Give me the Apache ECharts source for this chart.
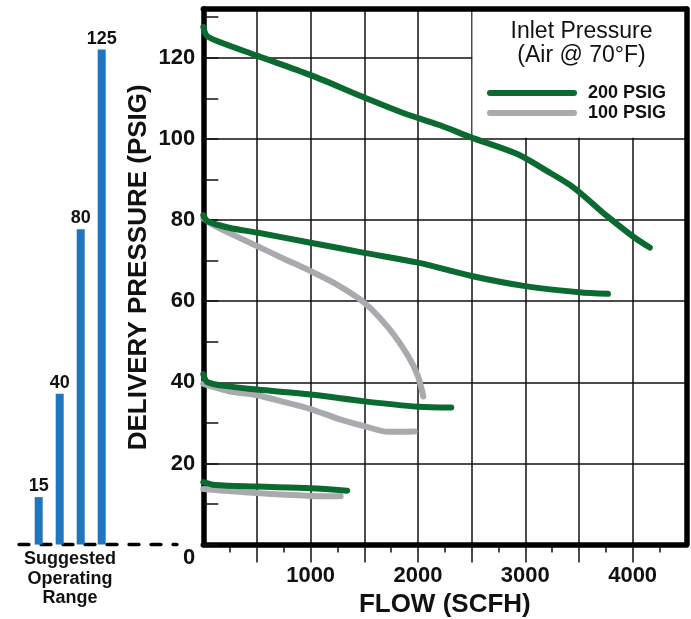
<!DOCTYPE html>
<html><head><meta charset="utf-8">
<script src="https://cdn.jsdelivr.net/npm/echarts@6/dist/echarts.min.js"></script>
<style>html,body{margin:0;padding:0;background:#fff}#c{width:691px;height:619px}</style>
</head><body><div id="c"></div>
<script>
// ---- data ----
const flowTickValues = [500, 1000, 1500, 2000, 2500, 3000, 3500, 4000];
const flowLabelValues = [1000, 2000, 3000, 4000];
const pressureLabelValues = [0, 20, 40, 60, 80, 100, 120];

// 200 PSIG inlet curves [flow SCFH, delivery PSIG]
const inlet200_set125 = [[0,127.6],[30,125.5],[110,124.3],[500,120.5],[1000,115.7],[1500,110.2],[1850,106.5],[2200,103.4],[2500,100.3],[2920,96.3],[3200,92.1],[3450,88.0],[3760,81.0],[4000,76.0],[4160,73.2]];
const inlet200_set80  = [[0,81.2],[40,79.7],[240,78.1],[500,76.9],[1000,74.4],[1500,71.9],[2000,69.5],[2500,66.2],[3000,63.7],[3500,62.2],[3770,61.8]];
const inlet200_set40  = [[0,42.0],[40,40.0],[240,39.0],[500,38.2],[1000,37.0],[1500,35.3],[2000,34.0],[2310,33.8]];
const inlet200_set15  = [[0,15.4],[110,14.7],[500,14.3],[1000,13.9],[1340,13.3]];
// 100 PSIG inlet curves
const inlet100_set80  = [[0,80.4],[110,78.5],[500,73.6],[730,70.7],[1000,67.4],[1230,64.3],[1500,59.6],[1725,53.4],[1910,46.4],[2000,41.5],[2050,36.5]];
const inlet100_set40  = [[0,39.6],[240,37.8],[500,36.8],[760,35.1],[1000,33.4],[1260,31.0],[1500,29.2],[1725,27.8],[1970,27.9]];
const inlet100_set15  = [[0,13.7],[500,12.7],[1000,12.0],[1280,11.9]];

// Suggested operating range bars
const rangeLabels = ['15', '40', '80', '125'];
const rangeHeights = [11.7, 37.2, 77.7, 122.0];

const legendNames = ['200 PSIG', '100 PSIG'];
const legendBoxFlow = [2508, 4500];
const legendBoxPressure = [100.3, 132];

// ---- styling ----
const FF = "'Liberation Sans', Arial, Helvetica, sans-serif";
const GREEN = '#0b6a2f';
const GRAY = '#a9aaae';
const BLUE = '#2075bf';
const INK = '#111';

function curve(name, data, color) {
  return {
    type: 'line', name: name, data: data, xAxisIndex: 0, yAxisIndex: 0,
    smooth: 0.3, symbol: 'none', showSymbol: false, silent: true,
    color: color, itemStyle: {color: color},
    lineStyle: {color: color, width: 6, cap: 'round', join: 'round'},
    z: 2
  };
}

const chart = echarts.init(document.getElementById('c'), null, {renderer: 'canvas'});
const option = {
  animation: false,
  backgroundColor: '#fff',
  textStyle: {fontFamily: FF},
  title: [
    {text: 'Inlet Pressure\n(Air @ 70°F)', left: 581.5, top: 19.5, padding: 0, textAlign: 'center',
     textStyle: {fontFamily: FF, fontSize: 23, fontWeight: 'normal', color: INK, lineHeight: 24}},
    {text: 'Suggested\nOperating\nRange', left: 70, top: 549.5, padding: 0, textAlign: 'center',
     textStyle: {fontFamily: FF, fontSize: 18, fontWeight: 'bold', color: INK, lineHeight: 19.5}}
  ],
  legend: {
    data: legendNames, orient: 'vertical', left: 487, top: 83, padding: 0,
    itemWidth: 90, itemHeight: 6, itemGap: 0, selectedMode: false,
    icon: 'path://M3 0H87A3 3 0 0 1 87 6H3A3 3 0 0 1 3 0Z',
    textStyle: {fontFamily: FF, fontSize: 18, fontWeight: 'bold', color: INK, lineHeight: 20, padding: [0,0,0,6]}
  },
  grid: [
    {left: 203.3, top: 9, width: 483, height: 535.6, containLabel: false, outerBoundsMode: 'none'},
    {left: 13, top: 9, width: 164, height: 535.6, containLabel: false, outerBoundsMode: 'none'}
  ],
  xAxis: [
    {gridIndex: 0, type: 'value', min: 0, max: 4500, interval: 500, position: 'bottom', z: 0,
     axisLine: {show: true, onZero: false, lineStyle: {color: '#000', width: 5.5}},
     axisTick: {show: true, inside: false, length: 18, customValues: flowTickValues, lineStyle: {color: INK, width: 1.5}},
     minorTick: {show: true, splitNumber: 2, length: 8, lineStyle: {color: INK, width: 1.5}},
     splitLine: {show: true, lineStyle: {color: INK, width: 1.5}},
     axisLabel: {show: true, margin: 20, fontFamily: FF, fontSize: 22, fontWeight: 'bold', color: INK,
       formatter: v => flowLabelValues.indexOf(v) >= 0 ? String(v) : ''},
     name: 'FLOW (SCFH)', nameLocation: 'middle', nameGap: 47, nameMoveOverlap: false,
     nameTextStyle: {fontFamily: FF, fontSize: 26, fontWeight: 'bold', color: INK}
    },
    {gridIndex: 0, type: 'value', min: 0, max: 4500, position: 'top', z: 10,
     axisLine: {show: true, onZero: false, lineStyle: {color: '#000', width: 5.5}},
     axisTick: {show: false}, axisLabel: {show: false}, splitLine: {show: false}},
    {gridIndex: 1, type: 'value', min: -0.224, max: 7.586, position: 'bottom',
     axisLine: {show: true, onZero: false, lineStyle: {color: '#000', width: 3.3, type: [10, 12], dashOffset: 16}},
     axisTick: {show: false}, axisLabel: {show: false}, splitLine: {show: false}}
  ],
  yAxis: [
    {gridIndex: 0, type: 'value', min: 0, max: 132, interval: 20, position: 'left', z: 0,
     axisLine: {show: true, onZero: false, lineStyle: {color: '#000', width: 5.5}},
     axisTick: {show: true, inside: true, length: 15, lineStyle: {color: INK, width: 1.5}},
     minorTick: {show: true, splitNumber: 2, length: 15, lineStyle: {color: INK, width: 1.5}},
     splitLine: {show: true, lineStyle: {color: INK, width: 1.5}},
     axisLabel: {show: true, margin: 8, fontFamily: FF, fontSize: 22, fontWeight: 'bold', color: INK,
       formatter: v => pressureLabelValues.indexOf(v) < 0 ? '' : (v === 0 ? '{z|0}' : String(v)),
       rich: {z: {fontFamily: FF, fontSize: 22, fontWeight: 'bold', color: INK, padding: [27, 0, 0, 0]}}},
     name: 'DELIVERY PRESSURE (PSIG)', nameLocation: 'middle', nameGap: 64, nameRotate: 90, nameMoveOverlap: false,
     nameTextStyle: {fontFamily: FF, fontSize: 26, fontWeight: 'bold', color: INK, verticalAlign: 'middle', align: 'center', padding: [0, 0, 0, 19]}
    },
    {gridIndex: 0, type: 'value', min: 0, max: 132, position: 'right', z: 10,
     axisLine: {show: true, onZero: false, lineStyle: {color: '#000', width: 5.5}},
     axisTick: {show: false}, axisLabel: {show: false}, splitLine: {show: false}},
    {gridIndex: 1, type: 'value', min: 0, max: 132, show: false}
  ],
  series: [
    {type: 'line', name: 'legendBox', xAxisIndex: 0, yAxisIndex: 0, data: [], z: 1, silent: true,
     markArea: {silent: true, z: 1, itemStyle: {color: '#fff', opacity: 1}, label: {show: false},
       data: [[{coord: [legendBoxFlow[0], legendBoxPressure[0]]}, {coord: [legendBoxFlow[1], legendBoxPressure[1]]}]]}},
    curve(legendNames[1], inlet100_set80, GRAY),
    curve(legendNames[1], inlet100_set40, GRAY),
    curve(legendNames[1], inlet100_set15, GRAY),
    curve(legendNames[0], inlet200_set125, GREEN),
    curve(legendNames[0], inlet200_set80, GREEN),
    curve(legendNames[0], inlet200_set40, GREEN),
    curve(legendNames[0], inlet200_set15, GREEN),
    {type: 'bar', name: 'range', xAxisIndex: 2, yAxisIndex: 2, barWidth: 8, silent: true,
     data: rangeHeights.map((h, i) => [i + 1, h]),
     itemStyle: {color: BLUE},
     label: {show: true, position: 'top', distance: 2, fontFamily: FF, fontSize: 18, fontWeight: 'bold', color: INK,
       formatter: p => rangeLabels[p.dataIndex]}}
  ]
};
chart.setOption(option);
</script>
</body></html>
